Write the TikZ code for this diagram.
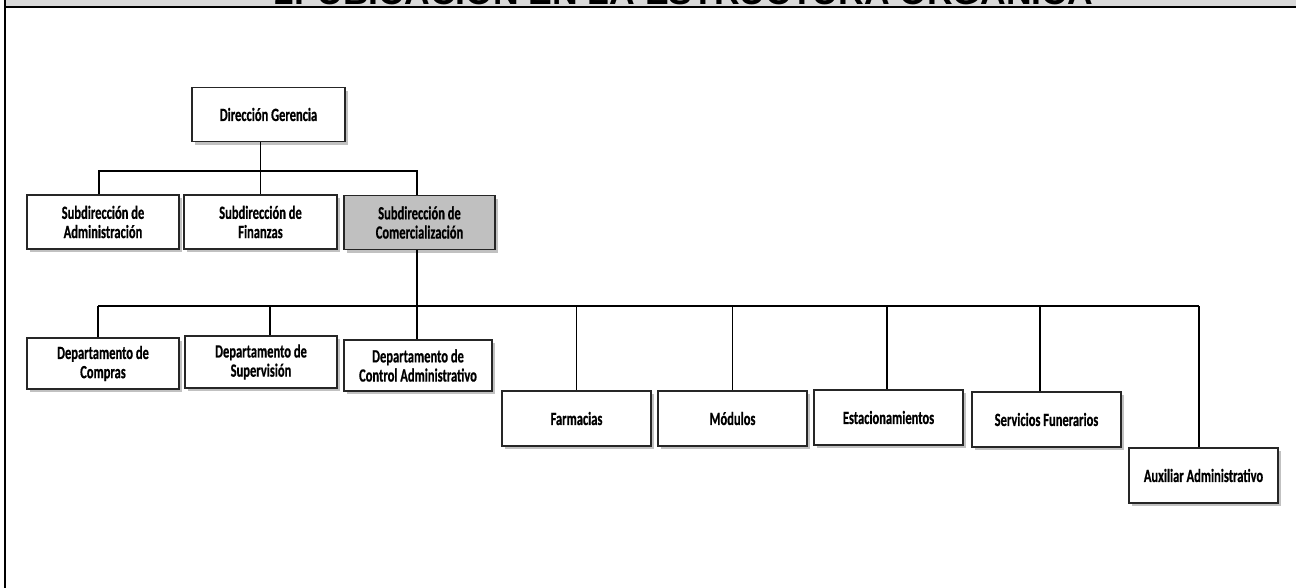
\documentclass[tikz,border=0pt]{standalone}
\usepackage{fontspec}
\setmainfont[FakeStretch=0.67,FakeBold=0.6]{Carlito}
\newfontfamily\titlefont{Liberation Sans}
\usetikzlibrary{shadows}
\definecolor{banner}{HTML}{D9D9D9}
\definecolor{headbox}{HTML}{C0C0C0}
\tikzset{
  orgbox/.style={draw=black!85, line width=0.8pt, fill=white, inner sep=0pt,
    minimum width=#1*0.75pt, minimum height=40.5pt, align=center,
    font=\bfseries\fontsize{14pt}{13.2pt}\selectfont,
    drop shadow={shadow xshift=2.4pt, shadow yshift=-2.4pt, fill=black!35, opacity=0.7}},
  orgbox/.default=152,
  link/.style={draw=black, line width=1.1pt}
}
\begin{document}
\begin{tikzpicture}[x=0.75pt,y=-0.75pt]
\useasboundingbox (0,0) rectangle (1296,588);
% page frame and title banner
\fill[banner] (6,0) rectangle (1296,6);
\begin{scope}
  \clip (6,0) rectangle (1296,6);
  \node[anchor=base, inner sep=0pt] (title) at (684,4.5)
    {\resizebox{613.5pt}{!}{\titlefont\bfseries 2. UBICACIÓN EN LA ESTRUCTURA ORGÁNICA}};
\end{scope}
\draw[line width=1.6pt] (4,7) -- (1296,7);
\draw[line width=1.6pt] (5,0) -- (5,588);

% level 1
\node[orgbox=153] (dg) at (268.5,114.5) {Dirección Gerencia};
% level 2
\node[orgbox] (sa) at (103,222) {Subdirección de\\[1.2pt]Administración};
\node[orgbox=153] (sf) at (260.5,222) {Subdirección de\\[1.2pt]Finanzas};
\node[orgbox=151, fill=headbox] (sc) at (419.5,222.5) {Subdirección de\\[1.2pt]Comercialización};
% level 3
\node[orgbox, minimum height=38.25pt] (dc) at (103,363.5) {Departamento de\\[1.2pt]Compras};
\node[orgbox, minimum height=39pt] (ds) at (261,362) {Departamento de\\[1.2pt]Supervisión};
\node[orgbox=148, minimum height=38.25pt] (dca) at (418,365.5) {Departamento de\\[1.2pt]Control Administrativo};
% level 4
\node[orgbox=149, minimum height=41.25pt] (fa) at (576.5,418.5) {Farmacias};
\node[orgbox=149, minimum height=41.25pt] (mo) at (732.5,418.5) {Módulos};
\node[orgbox=149, minimum height=41.25pt] (es) at (888.5,417.5) {Estacionamientos};
\node[orgbox=149, minimum height=41.25pt] (sfu) at (1046.5,419.5) {Servicios Funerarios};
\node[orgbox=149, minimum height=41.25pt] (aux) at (1203.5,475.5) {Auxiliar Administrativo};

% bus levels
\coordinate (busA) at (0,171);
\coordinate (busB) at (0,306);

% Dirección Gerencia to the three subdirecciones
\draw[link] (dg.south -| sf.north) -- (sf.north);
\draw[link] ([xshift=-3pt]sa.north) -- ([xshift=-3pt]sa.north |- busA)
  -- ([xshift=-1.9pt]sc.north |- busA) -- ([xshift=-1.9pt]sc.north);

% Subdirección de Comercialización to its units
\draw[link] ([xshift=-1.9pt]sc.south) -- ([xshift=-1.9pt]sc.south |- busB);
\draw[link] ([xshift=-3.75pt]dc.north |- busB) -- ([xshift=-3.4pt]aux.north |- busB);
\draw[link] ([xshift=-3.75pt]dc.north |- busB) -- ([xshift=-3.75pt]dc.north);
\draw[link] ([xshift=6.75pt]ds.north |- busB) -- ([xshift=6.75pt]ds.north);
\draw[link] ([xshift=-0.75pt]dca.north |- busB) -- ([xshift=-0.75pt]dca.north);
\draw[link] (fa.north |- busB) -- (fa.north);
\draw[link] (mo.north |- busB) -- (mo.north);
\draw[link] ([xshift=-1.1pt]es.north |- busB) -- ([xshift=-1.1pt]es.north);
\draw[link] ([xshift=-4.9pt]sfu.north |- busB) -- ([xshift=-4.9pt]sfu.north);
\draw[link] ([xshift=-3.4pt]aux.north |- busB) -- ([xshift=-3.4pt]aux.north);
\end{tikzpicture}
\end{document}
